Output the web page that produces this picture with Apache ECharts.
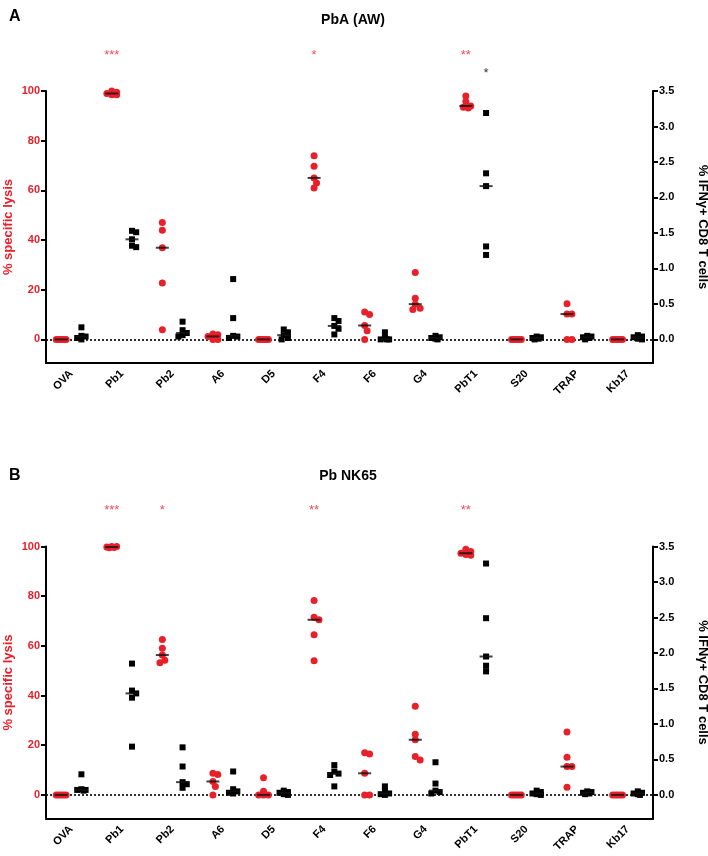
<!DOCTYPE html>
<html>
<head>
<meta charset="utf-8">
<script src="https://cdn.jsdelivr.net/npm/echarts@6/dist/echarts.min.js"></script>
<style>
  html, body { margin: 0; padding: 0; background: #fff; }
  #chart { width: 708px; height: 856px; }
</style>
</head>
<body>
<div id="chart"></div>
<script>
// ---------------- DATA ----------------
const categories = ['OVA', 'Pb1', 'Pb2', 'A6', 'D5', 'F4', 'F6', 'G4', 'PbT1', 'S20', 'TRAP', 'Kb17'];

const leftTicks = [0, 20, 40, 60, 80, 100];
const rightTicks = [0, 0.5, 1.0, 1.5, 2.0, 2.5, 3.0, 3.5];

// Panel A: PbA (AW)
const lysisA = [
  [0, 0, 0, 0, 0],
  [100, 99.5, 99, 98.5, 98.5],
  [47.1, 43.9, 36.9, 22.7, 3.9],
  [2.2, 1.9, 1.2, 0, 0],
  [0, 0, 0, 0, 0],
  [73.9, 69.7, 65, 63, 61],
  [11, 10, 5.6, 3.5, 0],
  [26.9, 16.6, 14.2, 12.5, 12],
  [98, 95.8, 94, 93.5, 93.2],
  [0, 0, 0, 0, 0],
  [14.4, 10.2, 10.2, 0, 0],
  [0, 0, 0, 0, 0]
];
const ifnA = [
  [0.17, 0.05, 0.04, 0.02, 0.0],
  [1.53, 1.51, 1.41, 1.32, 1.30],
  [0.25, 0.13, 0.09, 0.06, 0.04],
  [0.85, 0.30, 0.05, 0.04, 0.02],
  [0.14, 0.10, 0.06, 0.02, 0.0],
  [0.30, 0.26, 0.19, 0.15, 0.07],
  [0.10, 0.02, 0.0, 0.0, 0.0],
  [0.05, 0.03, 0.02, 0.01, 0.0],
  [3.19, 2.34, 2.16, 1.31, 1.19],
  [0.04, 0.03, 0.02, 0.01, 0.0],
  [0.05, 0.04, 0.03, 0.02, 0.0],
  [0.06, 0.04, 0.03, 0.01, 0.0]
];
const starsLysisA = ['', '***', '', '', '', '*', '', '', '**', '', '', ''];
const starsIfnA   = ['', '', '', '', '', '', '', '', '*', '', '', ''];

// Panel B: Pb NK65
const lysisB = [
  [0, 0, 0, 0, 0],
  [100, 100, 99.8, 99.6, 99.5],
  [62.6, 59, 56.3, 54.2, 53.2],
  [8.7, 8.2, 5.4, 3.4, 0],
  [6.9, 1.5, 0, 0, 0],
  [78.3, 71.5, 70.5, 64.5, 54],
  [17, 16.5, 8.7, 0, 0],
  [35.7, 24.4, 22.2, 15.5, 14.1],
  [98.9, 98, 97.3, 96.8, 96.5],
  [0, 0, 0, 0, 0],
  [25.3, 15.2, 11.4, 11.4, 3.1],
  [0, 0, 0, 0, 0]
];
const ifnB = [
  [0.29, 0.08, 0.07, 0.07, 0.06],
  [1.85, 1.47, 1.43, 1.37, 0.68],
  [0.67, 0.40, 0.18, 0.15, 0.10],
  [0.33, 0.08, 0.05, 0.03, 0.02],
  [0.06, 0.04, 0.03, 0.01, 0.0],
  [0.42, 0.33, 0.30, 0.28, 0.12],
  [0.12, 0.05, 0.02, 0.01, 0.0],
  [0.46, 0.16, 0.06, 0.04, 0.02],
  [3.26, 2.49, 1.95, 1.82, 1.74],
  [0.06, 0.04, 0.02, 0.01, 0.0],
  [0.05, 0.04, 0.03, 0.02, 0.01],
  [0.05, 0.03, 0.02, 0.01, 0.0]
];
const starsLysisB = ['', '***', '*', '', '', '**', '', '', '**', '', '', ''];
const starsIfnB   = ['', '', '', '', '', '', '', '', '', '', '', ''];

// ---------------- LAYOUT HELPERS ----------------
const RED = '#e8202a';
const FONT = 'Liberation Sans, Arial, Helvetica, sans-serif';
const CAT_PX = 50.6;        // approx px per category
const LEFT_MIN = -9.5, LEFT_MAX = 100;
const RIGHT_MIN = LEFT_MIN * 3.5 / 100, RIGHT_MAX = 3.5;
const PLOT_H = 272;
const PX_LEFT = PLOT_H / (LEFT_MAX - LEFT_MIN);
const PX_RIGHT = PLOT_H / (RIGHT_MAX - RIGHT_MIN);

function median(arr) {
  const s = arr.slice().sort((a, b) => a - b);
  const n = s.length;
  return n % 2 ? s[(n - 1) / 2] : (s[n / 2 - 1] + s[n / 2]) / 2;
}

// simple scatter-dot jitter: spread overlapping points sideways (tight, overlapping allowed)
function jitter(values, pxPerUnit, size) {
  const placed = [];
  const cands = [0, 0.35, -0.35, 0.7, -0.7].map(f => f * size);
  const res = new Array(values.length).fill(0);
  values.forEach((v, i) => {
    let best = 0, bestD = -1;
    for (const c of cands) {
      let minD = Infinity;
      placed.forEach(p => {
        const d = Math.hypot(c - p.x, (v - p.v) * pxPerUnit);
        if (d < minD) minD = d;
      });
      if (minD >= size * 0.75) { best = c; break; }
      if (minD > bestD) { bestD = minD; best = c; }
    }
    placed.push({ x: best, v: v });
    res[i] = best;
  });
  return res;
}

function pointsFor(groups, shift, pxPerUnit, size) {
  const out = [];
  groups.forEach((vals, ci) => {
    const offs = jitter(vals, pxPerUnit, size);
    vals.forEach((v, k) => out.push([ci + shift + offs[k] / CAT_PX, v]));
  });
  return out;
}
function mediansFor(groups, shift) {
  return groups.map((vals, ci) => [ci + shift, median(vals)]);
}
function starsFor(stars, shift, y) {
  const out = [];
  stars.forEach((s, ci) => { if (s) out.push([ci + shift, y, s]); });
  return out;
}

// ---------------- AXES ----------------
function catAxis(g) {
  return {
    gridIndex: g, type: 'category', data: categories, boundaryGap: true,
    axisLine: { onZero: false, lineStyle: { color: '#000', width: 2 } },
    axisTick: { alignWithLabel: true, length: 6, lineStyle: { color: '#000', width: 2 } },
    axisLabel: { interval: 0, rotate: 45, margin: 9, color: '#000', fontWeight: 'bold', fontSize: 11, fontFamily: FONT },
    splitLine: { show: false }
  };
}
function valXAxis(g) {
  return { gridIndex: g, type: 'value', min: -0.5, max: 11.5, show: false, axisLine: { onZero: false } };
}
function leftAxis(g) {
  return {
    gridIndex: g, type: 'value', position: 'left', min: LEFT_MIN, max: LEFT_MAX,
    name: '% specific lysis', nameLocation: 'middle', nameGap: 31, nameMoveOverlap: false,
    nameTextStyle: { color: RED, fontWeight: 'bold', fontSize: 13, fontFamily: FONT },
    axisLine: { show: true, onZero: false, lineStyle: { color: '#000', width: 2 } },
    axisTick: { show: true, customValues: leftTicks, length: 5, lineStyle: { color: '#000', width: 2 } },
    axisLabel: { customValues: leftTicks, color: RED, fontWeight: 'bold', fontSize: 11, margin: 6, fontFamily: FONT },
    splitLine: { show: false }
  };
}
function rightAxis(g) {
  return {
    gridIndex: g, type: 'value', position: 'right', min: RIGHT_MIN, max: RIGHT_MAX,
    name: '% IFNγ+ CD8 T cells', nameLocation: 'middle', nameGap: 43, nameRotate: -90, nameMoveOverlap: false,
    nameTextStyle: { color: '#000', fontWeight: 'bold', fontSize: 13, fontFamily: FONT },
    axisLine: { show: true, onZero: false, lineStyle: { color: '#000', width: 2 } },
    axisTick: { show: true, customValues: rightTicks, length: 5, lineStyle: { color: '#000', width: 2 } },
    axisLabel: { customValues: rightTicks, color: '#000', fontWeight: 'bold', fontSize: 11, margin: 6, fontFamily: FONT,
                 formatter: v => Number(v).toFixed(1) },
    splitLine: { show: false }
  };
}

// ---------------- SERIES ----------------
function panelSeries(p, lysis, ifn, starsL, starsR) {
  const xi = p * 2 + 1, yl = p * 2, yr = p * 2 + 1;
  return [
    {
      type: 'scatter', xAxisIndex: xi, yAxisIndex: yl, symbol: 'circle', symbolSize: 7,
      itemStyle: { color: RED, opacity: 1 }, z: 3, silent: true,
      data: pointsFor(lysis, -0.2, PX_LEFT, 7),
      markLine: {
        silent: true, symbol: 'none', label: { show: false },
        lineStyle: { type: [2, 2], color: '#000', width: 1.6 },
        data: [{ yAxis: 0 }], z: 2
      }
    },
    {
      type: 'scatter', xAxisIndex: xi, yAxisIndex: yr, symbol: 'rect', symbolSize: 6,
      itemStyle: { color: '#000', opacity: 1 }, z: 3, silent: true,
      data: pointsFor(ifn, 0.2, PX_RIGHT, 6)
    },
    {
      type: 'scatter', xAxisIndex: xi, yAxisIndex: yl, symbol: 'rect', symbolSize: [13, 2],
      itemStyle: { color: '#111' }, z: 4, silent: true,
      data: mediansFor(lysis, -0.2)
    },
    {
      type: 'scatter', xAxisIndex: xi, yAxisIndex: yr, symbol: 'rect', symbolSize: [13, 2],
      itemStyle: { color: '#111' }, z: 4, silent: true,
      data: mediansFor(ifn, 0.2)
    },
    {
      type: 'scatter', xAxisIndex: xi, yAxisIndex: yl, symbolSize: 1, clip: false,
      itemStyle: { color: 'rgba(0,0,0,0)' }, z: 5, silent: true,
      label: { show: true, position: 'inside', formatter: d => d.data[2], color: RED, fontSize: 13, fontFamily: FONT },
      data: starsFor(starsL, -0.2, 114.5)
    },
    {
      type: 'scatter', xAxisIndex: xi, yAxisIndex: yr, symbolSize: 1, clip: false,
      itemStyle: { color: 'rgba(0,0,0,0)' }, z: 5, silent: true,
      label: { show: true, position: 'inside', formatter: d => d.data[2], color: '#000', fontSize: 13, fontFamily: FONT },
      data: starsFor(starsR, 0.2, 3.75)
    }
  ];
}

const option = {
  animation: false,
  backgroundColor: '#fff',
  textStyle: { fontFamily: FONT },
  title: [
    { text: 'A', left: 4, top: 4, textStyle: { fontSize: 16, fontWeight: 'bold', color: '#000', fontFamily: FONT } },
    { text: 'PbA (AW)', left: 348, top: 8, textAlign: 'center', textStyle: { fontSize: 14, fontWeight: 'bold', color: '#000', fontFamily: FONT } },
    { text: 'B', left: 4, top: 463, textStyle: { fontSize: 16, fontWeight: 'bold', color: '#000', fontFamily: FONT } },
    { text: 'Pb NK65', left: 343, top: 464, textAlign: 'center', textStyle: { fontSize: 14, fontWeight: 'bold', color: '#000', fontFamily: FONT } }
  ],
  grid: [
    { left: 46, right: 55, top: 91, height: PLOT_H, outerBoundsMode: 'none', containLabel: false },
    { left: 46, right: 55, top: 546.5, height: PLOT_H, outerBoundsMode: 'none', containLabel: false }
  ],
  xAxis: [catAxis(0), valXAxis(0), catAxis(1), valXAxis(1)],
  yAxis: [leftAxis(0), rightAxis(0), leftAxis(1), rightAxis(1)],
  series: [].concat(
    panelSeries(0, lysisA, ifnA, starsLysisA, starsIfnA),
    panelSeries(1, lysisB, ifnB, starsLysisB, starsIfnB)
  )
};

const chart = echarts.init(document.getElementById('chart'), null, { renderer: 'canvas' });
chart.setOption(option);
</script>
</body>
</html>
